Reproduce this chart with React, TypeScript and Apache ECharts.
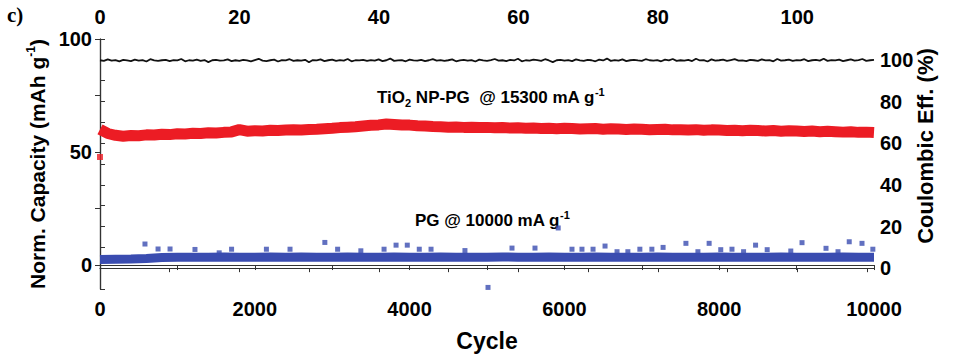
import React, { useEffect, useRef } from "react";
import * as echarts from "echarts";

const FONT = "'Liberation Sans', Arial, Helvetica, sans-serif";

// Capacity of TiO2 NP-PG (every 100 cycles, 0..10000)
const redStep = 100;
const redValues = [
  60.0, 58.2, 57.4, 57.0, 57.3, 57.2, 57.6, 57.5, 57.9, 57.7,
  58.1, 58.0, 58.3, 58.2, 58.5, 58.4, 58.7, 58.9, 59.9, 59.2,
  59.4, 59.3, 59.6, 59.5, 59.7, 59.8, 59.7, 60.0, 60.1, 60.3,
  60.5, 60.8, 61.0, 61.2, 61.5, 61.8, 62.0, 62.4, 62.2, 62.0,
  61.9, 61.6, 61.5, 61.3, 61.2, 61.0, 61.1, 60.9, 61.0, 60.8,
  60.9, 60.7, 60.8, 60.6, 60.7, 60.5, 60.6, 60.4, 60.5, 60.3,
  60.5, 60.4, 60.2, 60.3, 60.4, 60.1, 60.3, 60.2, 60.0, 60.2,
  60.1, 59.9, 60.0, 60.1, 59.8, 59.9, 59.7, 59.9, 59.6, 59.8,
  59.7, 59.5, 59.6, 59.4, 59.6, 59.5, 59.3, 59.5, 59.2, 59.4,
  59.3, 59.1, 59.3, 59.0, 59.2, 59.0, 58.8, 59.0, 58.7, 58.8,
  58.6,
];
const redFirstCycle = [0];
const redFirstValue = [47.8];

// Capacity of PG (every 200 cycles)
const blueStep = 200;
const blueValues = [
  2.5, 2.6, 2.7, 2.9, 3.3, 3.5, 3.4, 3.5, 3.6, 3.5,
  3.4, 3.6, 3.5, 3.6, 3.5, 3.4, 3.6, 3.5, 3.5, 3.6,
  3.5, 3.4, 3.6, 3.5, 3.5, 3.4, 3.6, 3.5, 3.5, 3.6,
  3.4, 3.5, 3.6, 3.5, 3.4, 3.5, 3.6, 3.5, 3.4, 3.5,
  3.6, 3.5, 3.4, 3.5, 3.6, 3.5, 3.4, 3.5, 3.6, 3.5,
  3.5,
];
const blueOutlierCycles = [
  581, 750, 905, 1227, 1540, 1700, 2150, 2455, 2905, 3070, 3370, 3670, 3825,
  3970, 4125, 4277, 4715, 5013, 5323, 5620, 5920, 6098, 6227, 6370, 6525, 6680,
  6820, 6975, 7130, 7275, 7570, 7725, 7870, 8020, 8165, 8315, 8470, 8620, 8925,
  9070, 9380, 9535, 9680, 9845, 9985,
];
const blueOutlierValues = [
  9.3, 7.1, 7.1, 6.9, 5.4, 7.0, 7.0, 7.0, 10.0, 7.0, 6.3, 7.0, 8.8,
  8.8, 7.0, 7.0, 6.4, -9.9, 7.5, 7.5, 16.4, 7.0, 7.0, 7.0, 8.4, 5.9,
  5.9, 7.0, 7.0, 7.8, 9.6, 5.9, 9.6, 6.8, 7.0, 5.9, 8.8, 6.8, 6.2,
  9.9, 7.4, 5.9, 10.3, 9.6, 7.0,
];

// Coulombic efficiency (every 50 cycles)
const ceStep = 50;
const ceValues = [
  99.8, 99.5, 100.2, 99.6, 99.9, 99.3, 100.0, 99.7, 99.4, 100.1,
  99.6, 99.9, 99.2, 100.3, 99.7, 99.5, 99.8, 100.0, 99.4, 99.9,
  99.7, 100.4, 99.3, 99.8, 99.6, 100.1, 99.5, 99.9, 98.9, 99.8,
  100.0, 99.6, 99.7, 100.2, 99.4, 99.8, 99.5, 100.0, 99.7, 99.3,
  99.9, 100.5, 99.6, 99.4, 99.8, 100.1, 99.2, 99.9, 99.7, 100.3,
  99.5, 99.8, 99.6, 100.0, 98.8, 99.9, 99.7, 100.2, 99.4, 99.8,
  100.1, 99.5, 99.9, 99.6, 100.4, 99.3, 99.8, 99.7, 100.0, 99.5,
  99.9, 99.6, 100.2, 99.4, 99.8, 100.6, 99.5, 99.7, 99.9, 99.3,
  100.1, 99.7, 99.6, 100.0, 99.4, 99.8, 100.3, 99.6, 99.9, 99.5,
  99.8, 100.2, 99.3, 99.7, 100.0, 99.6, 99.9, 99.2, 100.1, 99.7,
  99.5, 99.9, 100.4, 99.6, 99.8, 99.4, 100.0, 99.7, 100.5, 99.3,
  99.8, 99.6, 100.1, 99.9, 99.5, 100.3, 99.7, 98.9, 99.8, 100.0,
  99.6, 99.9, 99.4, 100.2, 99.7, 99.5, 100.0, 99.8, 99.3, 100.1,
  99.7, 100.6, 99.5, 99.9, 99.6, 100.2, 99.4, 99.8, 100.0, 99.7,
  99.5, 100.3, 99.8, 99.6, 99.9, 99.3, 100.1, 99.7, 100.4, 99.5,
  99.8, 99.6, 100.0, 99.4, 100.5, 99.7, 99.9, 99.2, 100.2, 99.6,
  99.8, 100.1, 99.5, 99.9, 100.3, 99.6, 99.7, 99.4, 100.0, 99.8,
  99.5, 100.2, 99.7, 99.9, 99.3, 100.4, 99.6, 99.8, 100.1, 99.5,
  99.9, 99.7, 100.3, 99.4, 99.8, 100.0, 99.6, 100.5, 99.5, 99.9,
  99.7, 100.1, 99.4, 99.8, 100.2, 99.6, 99.9, 100.4, 99.5, 99.8,
  100.0,
];

const leftTicks = [0, 25, 50, 75, 100];
const leftLabels = [0, 50, 100];

const RED = "#ec1c24";
const BLUE = "#3a4cb0";

export default function App() {
  const ref = useRef<HTMLDivElement>(null);
  useEffect(() => {
    if (!ref.current) return;
    const chart = echarts.init(ref.current, undefined, { renderer: "svg" });
    const redData = redValues.map((v, i) => [i * redStep, v]);
    const blueData = blueValues.map((v, i) => [i * blueStep, v]);
    const ceData = ceValues.map((v, i) => [i * ceStep, v]);
    const blueOut = blueOutlierCycles.map((c, i) => [c, blueOutlierValues[i]]);
    const redFirst = redFirstCycle.map((c, i) => [c, redFirstValue[i]]);

    const lab = { fontFamily: FONT, fontWeight: "bold" as const, fontSize: 20, color: "#000" };
    const axLine = { show: true, lineStyle: { color: "#333", width: 1.2 } };

    chart.setOption({
      animation: false,
      backgroundColor: "#fff",
      grid: { left: 100, right: 79, top: 39, bottom: 70, containLabel: false },
      xAxis: [
        {
          type: "value",
          position: "bottom",
          min: 0,
          max: 10000,
          interval: 1000,
          axisLine: axLine,
          axisTick: { length: 5, lineStyle: { color: "#333" } },
          axisLabel: { ...lab, margin: 10, formatter: (v: number) => (v % 2000 === 0 ? String(v) : "") },
          splitLine: { show: false },
          name: "Cycle",
          nameLocation: "middle",
          nameGap: 40,
          nameTextStyle: { fontFamily: FONT, fontWeight: "bold", fontSize: 23, color: "#000" },
        },
        {
          type: "value",
          position: "top",
          min: 0,
          max: 111,
          interval: 10,
          axisLine: axLine,
          axisTick: { inside: true, length: 4, lineStyle: { color: "#333" } },
          axisLabel: {
            ...lab,
            margin: 12,
            showMaxLabel: false,
            formatter: (v: number) => (v % 20 === 0 && v <= 100 ? String(v) : ""),
          },
          splitLine: { show: false },
        },
      ],
      yAxis: [
        {
          type: "value",
          position: "left",
          min: -10.6,
          max: 100,
          axisLine: axLine,
          axisTick: { length: 5, customValues: leftTicks, lineStyle: { color: "#333" } },
          axisLabel: { ...lab, margin: 8, customValues: leftLabels },
          splitLine: { show: false },
          name: "{t|Norm. Capacity (mAh g}{s|-1}{t|)}",
          nameLocation: "middle",
          nameGap: 46,
          nameRotate: 90,
          nameTextStyle: {
            rich: {
              t: { fontFamily: FONT, fontWeight: "bold", fontSize: 21, color: "#000", lineHeight: 24 },
              s: { fontFamily: FONT, fontWeight: "bold", fontSize: 12, color: "#000", verticalAlign: "top", lineHeight: 24 },
            },
          },
        },
        {
          type: "value",
          position: "right",
          min: -10,
          max: 110,
          interval: 10,
          axisLine: axLine,
          axisTick: { length: 5, lineStyle: { color: "#333" } },
          axisLabel: {
            ...lab,
            margin: 6,
            formatter: (v: number) => (v % 20 === 0 && v >= 0 && v <= 100 ? String(v) : ""),
          },
          splitLine: { show: false },
        },
      ],
      graphic: [
        {
          type: "text",
          left: 7,
          top: 4,
          style: { text: "c)", fontFamily: "'Liberation Serif', 'Times New Roman', serif", fontWeight: "bold", fontSize: 21, fill: "#000" },
        },
        {
          type: "text",
          x: 925,
          y: 146,
          rotation: Math.PI / 2,
          style: {
            text: "Coulombic Eff. (%)",
            fontFamily: FONT,
            fontWeight: "bold",
            fontSize: 22,
            fill: "#000",
            align: "center",
            verticalAlign: "middle",
          },
        },
        {
          type: "text",
          x: 377,
          y: 97,
          style: {
            text: "{b|TiO}{sub|2}{b| NP-PG  @ 15300 mA g}{sup|-1}",
            align: "left",
            verticalAlign: "middle",
            rich: {
              b: { fontFamily: FONT, fontWeight: "bold", fontSize: 17, fill: "#000", lineHeight: 22 },
              sub: { fontFamily: FONT, fontWeight: "bold", fontSize: 11, fill: "#000", verticalAlign: "bottom", lineHeight: 22 },
              sup: { fontFamily: FONT, fontWeight: "bold", fontSize: 11, fill: "#000", verticalAlign: "top", lineHeight: 22 },
            },
          },
        },
        {
          type: "text",
          x: 415,
          y: 220,
          style: {
            text: "{b|PG @ 10000 mA g}{sup|-1}",
            align: "left",
            verticalAlign: "middle",
            rich: {
              b: { fontFamily: FONT, fontWeight: "bold", fontSize: 17, fill: "#000", lineHeight: 22 },
              sup: { fontFamily: FONT, fontWeight: "bold", fontSize: 11, fill: "#000", verticalAlign: "top", lineHeight: 22 },
            },
          },
        },
      ],
      series: [
        {
          name: "Coulombic efficiency",
          type: "line",
          xAxisIndex: 0,
          yAxisIndex: 1,
          data: ceData,
          showSymbol: false,
          lineStyle: { color: "#111", width: 1.8 },
          z: 3,
        },
        {
          name: "TiO2 NP-PG",
          type: "line",
          xAxisIndex: 0,
          yAxisIndex: 0,
          data: redData,
          showSymbol: false,
          lineStyle: { color: RED, width: 11 },
          z: 2,
        },
        {
          name: "TiO2 NP-PG first",
          type: "scatter",
          xAxisIndex: 0,
          yAxisIndex: 0,
          data: redFirst,
          symbol: "rect",
          symbolSize: 6,
          itemStyle: { color: RED },
        },
        {
          name: "PG",
          type: "line",
          xAxisIndex: 0,
          yAxisIndex: 0,
          data: blueData,
          showSymbol: false,
          lineStyle: { color: BLUE, width: 9 },
          z: 2,
        },
        {
          name: "PG outliers",
          type: "scatter",
          xAxisIndex: 0,
          yAxisIndex: 0,
          data: blueOut,
          symbol: "rect",
          symbolSize: 5,
          itemStyle: { color: BLUE },
        },
      ],
    });
    return () => chart.dispose();
  }, []);
  return <div ref={ref} style={{ position: "absolute", left: 0, top: 0, width: 953, height: 359 }} />;
}
